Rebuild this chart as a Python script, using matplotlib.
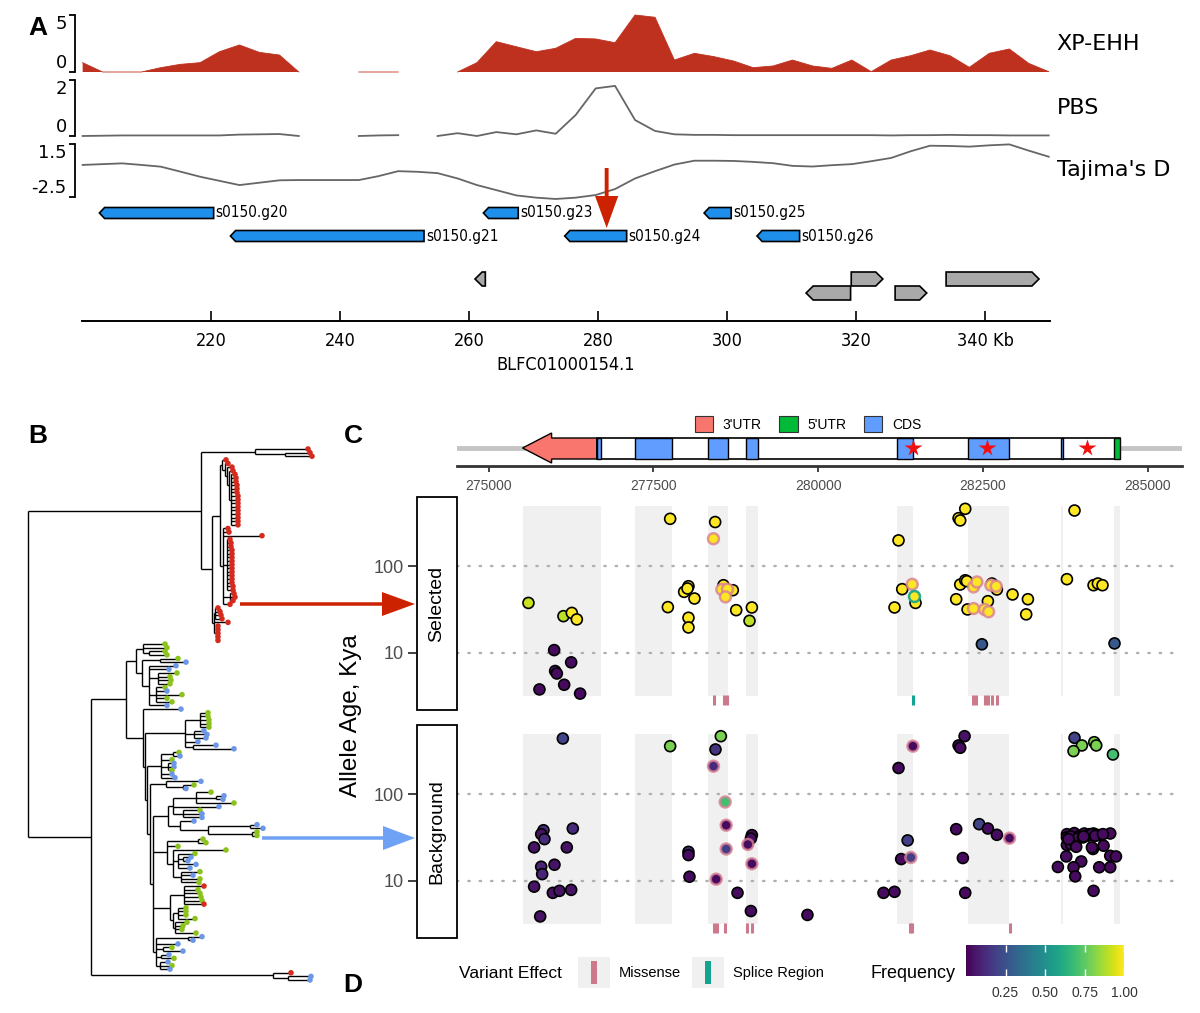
import numpy as np
import matplotlib
matplotlib.use("Agg")
import matplotlib.pyplot as plt
from matplotlib.patches import Rectangle, Polygon, FancyArrow, Patch
from matplotlib.transforms import Affine2D
from matplotlib.collections import LineCollection
import matplotlib.colors as mcolors
import matplotlib.cm as cm

nan = np.nan
W, H = 1200, 1013

# ======================= DATA =======================
# ---- Panel A : selection scans ----
window_kb = [200.1, 203.2, 206.2, 209.2, 212.2, 215.2, 218.3, 221.3, 224.4, 227.5,
             230.6, 233.6, 236.7, 239.8, 242.9, 245.9, 249.0, 252.1, 255.1, 258.2,
             261.2, 264.2, 267.3, 270.4, 273.4, 276.5, 279.6, 282.6, 285.7, 288.8,
             291.8, 294.9, 297.9, 301.0, 304.0, 307.1, 310.1, 313.2, 316.2, 319.3,
             322.3, 325.4, 328.4, 331.4, 334.5, 337.5, 340.6, 343.7, 346.7, 349.8]
xpehh = [0.82, 0.0, 0.0, 0.0, 0.38, 0.67, 0.82, 1.78, 2.37, 1.72,
         1.49, 0.0, nan, nan, 0.0, 0.0, 0.0, nan, nan, 0.0,
         0.82, 2.66, 2.22, 1.78, 2.08, 2.95, 2.90, 2.57, 5.00, 4.80,
         1.05, 1.64, 1.35, 0.96, 0.38, 0.53, 1.05, 0.53, 0.32, 1.05,
         0.03, 1.05, 1.43, 1.93, 1.43, 0.41, 1.64, 2.02, 0.76, 0.03]
pbs = [0.0, 0.01, 0.02, 0.02, 0.02, 0.02, 0.02, 0.02, 0.05, 0.06,
       0.07, 0.0, nan, nan, 0.0, 0.02, 0.03, nan, 0.0, 0.10,
       0.0, 0.14, 0.06, 0.20, 0.08, 0.75, 1.70, 1.79, 0.57, 0.18,
       0.06, 0.04, 0.04, 0.03, 0.03, 0.03, 0.03, 0.03, 0.03, 0.03,
       0.03, 0.02, 0.03, 0.03, 0.04, 0.03, 0.03, 0.02, 0.02, 0.02]
tajima_d = [-0.08, -0.02, 0.04, -0.08, -0.21, -0.58, -0.97, -1.28, -1.60, -1.42,
            -1.24, -1.22, -1.22, -1.22, -1.22, -0.93, -0.55, -0.60, -0.70, -1.10,
            -1.60, -1.98, -2.38, -2.55, -2.65, -2.55, -2.35, -1.90, -1.10, -0.55,
            -0.05, 0.24, 0.24, 0.22, 0.15, 0.05, -0.15, -0.20, -0.10, -0.02,
            0.20, 0.45, 0.95, 1.37, 1.35, 1.30, 1.40, 1.47, 1.00, 0.54]
track_names = ["XP-EHH", "PBS", "Tajima's D"]
track_ticks = [[0, 5], [0, 2], [-2.5, 1.5]]
track_ticklabels = [["0", "5"], ["0", "2"], ["-2.5", "1.5"]]

gene_names = ["s0150.g20", "s0150.g21", "s0150.g23", "s0150.g24", "s0150.g25", "s0150.g26"]
gene_start_kb = [202.7, 223.0, 262.2, 274.8, 296.4, 304.6]
gene_end_kb = [220.4, 253.0, 267.6, 284.4, 300.6, 311.2]
gene_row = [0, 1, 0, 1, 0, 1]
other_start_kb = [260.9, 319.2, 333.9, 312.2, 326.0]
other_end_kb = [262.5, 324.1, 348.3, 319.1, 330.9]
other_strand = ["-", "+", "+", "-", "+"]
other_row = [2, 2, 2, 3, 3]
focus_kb = 281.3
a_ticks = [220, 240, 260, 280, 300, 320, 340]
contig_name = "BLFC01000154.1"

# ---- Panel C : gene model ----
exon_start = [275515, 276640, 277215, 278335, 278910, 281200, 282280, 283680, 284485]
exon_end = [276640, 276700, 277775, 278625, 279090, 281440, 282900, 283715, 284580]
exon_type = ["3'UTR", "CDS", "CDS", "CDS", "CDS", "CDS", "CDS", "CDS", "5'UTR"]
star_pos = [281435, 282560, 284082]
model_ticks = [275000, 277500, 280000, 282500, 285000]

# ---- Panel C : allele ages (Selected) ----
sel_pos = [275604, 276135, 276262, 276338, 275994, 276252, 276009, 276035, 276146, 275771,
           276388, 277754, 278437, 278411, 278032, 277966, 278017, 278123, 277719, 278032,
           278032, 278563, 278538, 278624, 278705, 278594, 278756, 278994, 278958, 281219,
           281158, 281275, 281427, 281457, 281477, 282231, 282130, 282155, 282155, 282231,
           282256, 282357, 282408, 282636, 282620, 282711, 282701, 282094, 282266, 282357,
           282575, 282524, 282585, 282484, 282949, 283182, 283156, 283889, 283774, 284178,
           284244, 284314, 284496]
sel_age = [37.8, 26.6, 29.0, 24.4, 10.8, 7.8, 6.2, 5.8, 4.3, 3.8,
           3.4, 353, 324, 208, 58.9, 50.7, 55.5, 42.5, 33.8, 25.5,
           19.7, 60.5, 54.0, 54.4, 53.0, 44.4, 31.2, 33.5, 23.5, 199,
           33.5, 54.5, 62.0, 45.2, 37.8, 460, 359, 338, 61.6, 69.0,
           67.3, 57.8, 66.0, 63.3, 60.5, 54.0, 58.9, 41.7, 31.8, 32.6,
           39.6, 31.8, 29.9, 12.6, 47.3, 41.7, 27.9, 440, 71.0, 60.5,
           63.3, 60.5, 12.9]
sel_freq = [0.92, 0.90, 1.0, 1.0, 0.03, 0.03, 0.03, 0.03, 0.03, 0.03,
            0.03, 1.0, 1.0, 1.0, 1.0, 1.0, 1.0, 1.0, 1.0, 1.0,
            1.0, 1.0, 1.0, 1.0, 1.0, 1.0, 1.0, 1.0, 0.90, 1.0,
            1.0, 1.0, 1.0, 1.0, 1.0, 1.0, 1.0, 1.0, 1.0, 1.0,
            1.0, 1.0, 1.0, 1.0, 1.0, 1.0, 1.0, 1.0, 1.0, 1.0,
            1.0, 1.0, 1.0, 0.27, 1.0, 1.0, 1.0, 1.0, 1.0, 1.0,
            1.0, 1.0, 0.27]
sel_effect = ["n", "n", "n", "n", "n", "n", "n", "n", "n", "n",
              "n", "n", "n", "m", "n", "n", "n", "n", "n", "n",
              "n", "n", "m", "m", "n", "m", "n", "n", "n", "n",
              "n", "n", "m", "s", "n", "n", "n", "n", "n", "n",
              "n", "m", "m", "n", "m", "n", "m", "n", "n", "m",
              "n", "m", "m", "n", "n", "n", "n", "n", "n", "n",
              "n", "n", "n"]

# ---- Panel C : allele ages (Background) ----
bg_pos = [276126, 277754, 278523, 278442, 278411, 278589, 278604, 278604, 278452, 278994,
          278979, 278933, 278994, 278776, 278979, 278032, 278032, 278047, 279837, 275832,
          275797, 275847, 276277, 275690, 276186, 275797, 275812, 275999, 275690, 275974,
          276075, 276252, 275782, 281437, 281219, 282221, 282130, 282155, 281357, 281259,
          281406, 280991, 281158, 282094, 282195, 282231, 282443, 282575, 282711, 282903,
          283889, 284001, 283874, 284188, 284219, 284472,
          283774, 283885, 283966, 284037, 284117, 284178, 284229, 284269, 284431, 283774,
          283835, 283935, 284017, 284087, 284153, 284169, 283774, 283835, 283915, 284153,
          284330, 283764, 283991, 284431, 284518, 283637, 283874, 284264, 284431, 283900,
          284178, 284204, 284320, 283798, 284027]
bg_age = [440, 359, 468, 329, 211, 81.5, 44.0, 23.4, 10.5, 33.8,
          30.9, 26.4, 15.8, 7.3, 4.5, 21.7, 19.9, 11.2, 4.06, 38.5,
          34.7, 30.4, 40.3, 24.4, 24.4, 14.6, 12.0, 15.4, 8.6, 7.3,
          7.7, 7.9, 3.9, 359, 201, 468, 366, 344, 29.4, 17.9,
          18.7, 7.3, 7.5, 39.6, 18.4, 7.3, 45.2, 40.3, 34.1, 31.2,
          448, 366, 315, 399, 366, 288,
          34.7, 35.7, 33.2, 35.3, 34.7, 35.3, 34.0, 33.8, 35.3, 31.8,
          32.6, 30.9, 31.8, 33.2, 34.7, 23.4, 26.0, 26.6, 24.8, 24.4,
          25.5, 19.2, 16.8, 19.5, 19.2, 14.5, 14.4, 14.4, 14.4, 11.3,
          7.7, 33.2, 34.7, 30.4, 32.6]
bg_freq = [0.20, 0.80, 0.80, 0.15, 0.12, 0.70, 0.03, 0.18, 0.03, 0.03,
           0.03, 0.03, 0.03, 0.03, 0.03, 0.12, 0.03, 0.03, 0.03, 0.12,
           0.05, 0.12, 0.12, 0.05, 0.05, 0.10, 0.10, 0.05, 0.05, 0.05,
           0.05, 0.05, 0.05, 0.03, 0.03, 0.05, 0.03, 0.03, 0.18, 0.03,
           0.18, 0.03, 0.03, 0.03, 0.03, 0.03, 0.20, 0.03, 0.03, 0.03,
           0.20, 0.80, 0.80, 0.80, 0.80, 0.70,
           0.03, 0.03, 0.03, 0.03, 0.03, 0.03, 0.03, 0.03, 0.03, 0.03,
           0.03, 0.03, 0.03, 0.03, 0.03, 0.03, 0.03, 0.03, 0.03, 0.03,
           0.03, 0.03, 0.03, 0.03, 0.03, 0.03, 0.03, 0.03, 0.03, 0.03,
           0.03, 0.03, 0.03, 0.03, 0.03]
bg_effect = ["n", "n", "n", "n", "m", "m", "m", "m", "m", "n",
             "n", "m", "m", "n", "n", "n", "n", "n", "n", "n",
             "n", "n", "n", "n", "n", "n", "n", "n", "n", "n",
             "n", "n", "n", "m", "n", "n", "n", "n", "n", "n",
             "m", "n", "n", "n", "n", "n", "n", "n", "n", "m",
             "n", "n", "n", "n", "n", "n"] + ["n"] * 35

sel_missense_pos = [278413, 278565, 278610, 282347, 282400, 282535, 282570, 282640, 282712]
sel_splice_pos = [281446]
bg_missense_pos = [278413, 278464, 278589, 278927, 278993, 281400, 281430, 282904]
bg_splice_pos = []
age_ticks = [10, 100]
freq_ticks = [0.25, 0.50, 0.75, 1.00]

# ---- Panel B : haplotype tree (Newick, node values = distance from root) ----
clade_A = "(r:2.80,(r:2.82,r:2.84):2.57):2.27"
clade_C1 = ("(r:1.98,(r:2.00,(r:2.04,(r:2.05,(r:2.07,r:2.08,r:2.08,r:2.09,r:2.09,r:2.09,r:2.10,"
            "r:2.10,r:2.10,r:2.10,r:2.10,r:2.10,r:2.10,r:2.10,r:2.10):2.03):2.01):1.99):1.97):1.94")
clade_C2 = ("(r:2.00,r:2.01,r:2.34,(r:2.02,r:2.03,r:2.03,r:2.04,r:2.04,r:2.04,r:2.04,r:2.04,r:2.04,"
            "r:2.04,r:2.04,r:2.04,r:2.04,r:2.05,r:2.05):1.99,(r:2.06,r:2.07,r:2.05):2.02,r:2.02):1.95")
clade_B2 = "((r:1.90,r:1.92,r:1.93,r:1.94):1.87,r:2.00,(r:1.90,r:1.90,r:1.90,r:1.90,r:1.90):1.88):1.86"
clade_L1a = ("((g:1.37,g:1.39,(g:1.37,g:1.39):1.21):1.15,((g:1.50,b:1.58):1.32,(b:1.48,b:1.41,"
             "(g:1.49,g:1.42,g:1.43,g:1.42):1.30,(g:1.37,b:1.39,g:1.54,g:1.39,g:1.44):1.28,b:1.39):1.21):1.14):1.08")
clade_P = "((g:1.80,g:1.80,g:1.81,g:1.81,g:1.81):1.72,(b:1.76,b:1.79,b:1.78):1.66,b:1.70,(b:1.88,b:2.06):1.65):1.57"
clade_Q = "((g:1.51,b:1.52):1.45,g:1.44,(b:1.46,b:1.46,g:1.44):1.40,b:1.44,b:1.47):1.33"
clade_R = "(b:1.73,(g:1.66,b:1.58):1.55):1.38"
clade_S = "((g:1.83,(b:1.96,b:1.95):1.88,g:2.06):1.68,b:1.91,(g:1.72,b:1.74,b:1.74):1.55):1.45"
clade_T = "(b:1.66,((b:2.29,b:2.35):2.22,(g:2.29,g:2.29):2.24):1.80):1.52"
clade_U = ("((g:1.75,g:1.78):1.70,g:1.50,(g:1.98,(g:1.67,(b:1.63,b:1.60):1.55,b:1.68,b:1.62):1.50,"
           "(g:1.72,b:1.65,g:1.72,g:1.71):1.53):1.45):1.39")
clade_W = ("((r:1.76,g:1.70,g:1.72,g:1.73,g:1.74,r:1.76):1.56,((g:1.58,g:1.58,g:1.58,g:1.67):1.50,"
           "(g:1.59,g:1.55,g:1.54,g:1.68):1.47):1.45):1.42")
clade_X = "((b:1.74,b:1.65):1.60,b:1.50,(g:1.44,b:1.55):1.35,(b:1.41,g:1.46):1.33,(b:1.40,g:1.44,b:1.42):1.32):1.28"
clade_Lb = "(r:2.63,(b:2.83,b:2.82):2.60):2.45"

tree_newick = (
    "(((" + clade_A + ",((" + clade_C1 + "," + clade_C2 + "):1.92," + clade_B2 + "):1.84):1.73,"
    "((" + clade_L1a + ",(b:1.53,(" + clade_P + ",(" + clade_Q + ",(" + clade_R + ",(("
    + clade_S + "," + clade_T + "):1.40," + clade_U + "," + clade_W + "," + clade_X
    + "):1.25):1.22):1.19):1.17):1.15):0.98," + clade_Lb + "):0.63):0.00)"
)
tip_colors = {"r": "#D42B1E", "g": "#8CC21C", "b": "#6C97E6"}

# ======================= FIGURE =======================
plt.rcParams["font.family"] = ["Liberation Sans", "DejaVu Sans"]
fig = plt.figure(figsize=(W / 100, H / 100), dpi=100)
PX = Affine2D().scale(1.0 / W, -1.0 / H).translate(0, 1) + fig.transFigure


def ax_px(x0, y0, x1, y1, **kw):
    return fig.add_axes([x0 / W, 1 - y1 / H, (x1 - x0) / W, (y1 - y0) / H], **kw)


DJ = "DejaVu Sans"
COND = dict(family=DJ, stretch="condensed")

# ---------------- Panel A ----------------
xlim_a = (200, 350)
track_boxes = [(15, 72), (80, 136), (144, 197)]
track_data = [xpehh, pbs, tajima_d]
for i, (yb, vals) in enumerate(zip(track_boxes, track_data)):
    ax = ax_px(82, yb[0], 1050, yb[1])
    ax.set_xlim(*xlim_a)
    ax.set_ylim(track_ticks[i][0], track_ticks[i][1])
    ax.patch.set_visible(False)
    for sp in ["top", "right", "bottom"]:
        ax.spines[sp].set_visible(False)
    ax.spines["left"].set_position(("outward", 5))
    ax.spines["left"].set_linewidth(1.3)
    ax.set_xticks([])
    ax.set_yticks(track_ticks[i])
    ax.set_yticklabels(track_ticklabels[i], fontsize=13, family=DJ)
    ax.tick_params(axis="y", direction="out", length=4, width=1.3, pad=2)
    labs = ax.get_yticklabels()
    labs[0].set_verticalalignment("bottom")
    labs[1].set_verticalalignment("top")
    if i == 0:
        ax.fill_between(window_kb, 0, vals, color="#BF311F", lw=0, clip_on=False)
        ax.plot(window_kb, vals, color="#BF311F", lw=0.6, clip_on=False)
    else:
        ax.plot(window_kb, vals, color="#666666", lw=1.3, clip_on=False)
    ax.text(1.007, 0.5, track_names[i], transform=ax.transAxes, ha="left", va="center",
            fontsize=16, family=DJ)

# genes + axis
axg = ax_px(82, 160, 1050, 321)
axg.patch.set_visible(False)
axg.set_xlim(*xlim_a)
axg.set_ylim(321, 160)
row_y = [213, 236, 279, 293]
for sp in ["top", "right", "left"]:
    axg.spines[sp].set_visible(False)
axg.spines["bottom"].set_linewidth(1.4)
axg.set_yticks([])
axg.set_xticks(a_ticks)
axg.set_xticklabels([str(t) for t in a_ticks[:-1]] + [f"{a_ticks[-1]} Kb"], fontsize=13, **COND)
axg.tick_params(axis="x", direction="in", length=7, width=1.2, pad=8)
axg.set_xlabel(contig_name, fontsize=13, labelpad=4, **COND)


def gene_poly(s, e, strand, yc, h, head):
    if strand == "-":
        pts = [(s, yc), (s + head, yc - h / 2), (e, yc - h / 2), (e, yc + h / 2), (s + head, yc + h / 2)]
    else:
        pts = [(e, yc), (e - head, yc - h / 2), (s, yc - h / 2), (s, yc + h / 2), (e - head, yc + h / 2)]
    return pts


for name, s, e, r in zip(gene_names, gene_start_kb, gene_end_kb, gene_row):
    axg.add_patch(Polygon(gene_poly(s, e, "-", row_y[r], 11, 0.8), closed=True,
                          fc="#1E8FEA", ec="black", lw=1.2))
    axg.text(e + 0.3, row_y[r], name, ha="left", va="center", fontsize=11, **COND)
for s, e, st, r in zip(other_start_kb, other_end_kb, other_strand, other_row):
    axg.add_patch(Polygon(gene_poly(s, e, st, row_y[r], 14, 1.1), closed=True,
                          fc="#A9A9A9", ec="black", lw=1.2))
axg.add_patch(FancyArrow(focus_kb, 168, 0, 60, width=0.6, head_width=3.6, head_length=32,
                         length_includes_head=True, color="#CC2200", lw=0, clip_on=False))

# ---------------- Panel B : tree ----------------
def parse_newick(s):
    pos = [0]

    def node():
        children = []
        name = None
        if s[pos[0]] == "(":
            pos[0] += 1
            children.append(node())
            while s[pos[0]] == ",":
                pos[0] += 1
                children.append(node())
            pos[0] += 1
        else:
            st = pos[0]
            while s[pos[0]] not in ":,)":
                pos[0] += 1
            name = s[st:pos[0]]
        depth = 0.0
        if pos[0] < len(s) and s[pos[0]] == ":":
            pos[0] += 1
            st = pos[0]
            while pos[0] < len(s) and s[pos[0]] not in ",)":
                pos[0] += 1
            depth = float(s[st:pos[0]])
        return {"name": name, "children": children, "depth": depth}

    return node()


tree = parse_newick(tree_newick)
tips = []


def layout(nd):
    if not nd["children"]:
        nd["y"] = len(tips)
        tips.append(nd)
        return nd["y"]
    ys = [layout(c) for c in nd["children"]]
    nd["y"] = (ys[0] + ys[-1]) / 2.0
    return nd["y"]


layout(tree)
segs = []


def collect(nd):
    if nd["children"]:
        ys = [c["y"] for c in nd["children"]]
        segs.append([(nd["depth"], min(ys)), (nd["depth"], max(ys))])
        for c in nd["children"]:
            segs.append([(nd["depth"], c["y"]), (c["depth"], c["y"])])
            collect(c)


collect(tree)
axt = ax_px(28, 449, 312, 980)
axt.set_xlim(0, 2.84)
axt.set_ylim(len(tips) - 1, 0)
axt.axis("off")
axt.add_collection(LineCollection(segs, colors="black", linewidths=1.0, clip_on=False))
axt.scatter([t["depth"] for t in tips], [t["y"] for t in tips],
            c=[tip_colors[t["name"]] for t in tips], s=16, lw=0, zorder=3, clip_on=False)

# ---------------- Panel C : gene model ----------------
xlim_c = (274520, 285520)
axm = ax_px(457, 405, 1182, 466)
axm.patch.set_visible(False)
axm.set_xlim(*xlim_c)
axm.set_ylim(466, 405)
for sp in ["top", "right", "left"]:
    axm.spines[sp].set_visible(False)
axm.spines["bottom"].set_linewidth(2.0)
axm.spines["bottom"].set_color("#333333")
axm.set_yticks([])
axm.set_xticks(model_ticks)
axm.set_xticklabels([str(t) for t in model_ticks], fontsize=10, color="#4D4D4D")
axm.tick_params(axis="x", length=4, width=1.3, color="#333333", pad=5)
axm.axhline(448, color="#C4C4C4", lw=3.5, zorder=1)
type_color = {"3'UTR": "#F8766D", "5'UTR": "#00BA38", "CDS": "#619CFF"}
body_start = min(e for e, t in zip(exon_end, exon_type) if t == "3'UTR")
body_end = max(exon_end)
axm.add_patch(Rectangle((body_start, 438), body_end - body_start, 21, fc="white", ec="black",
                        lw=1.2, zorder=2))
head_bp = 440
for s, e, t in zip(exon_start, exon_end, exon_type):
    if t == "3'UTR":
        pts = [(s, 448), (s + head_bp, 433), (s + head_bp, 438), (e, 438), (e, 459),
               (s + head_bp, 459), (s + head_bp, 463)]
        axm.add_patch(Polygon(pts, closed=True, fc=type_color[t], ec="black", lw=1.0, zorder=3))
    else:
        axm.add_patch(Rectangle((s, 438), e - s, 21, fc=type_color[t], ec="black", lw=1.0, zorder=3))
axm.plot(star_pos, [448] * len(star_pos), ls="none", marker="*", ms=13, color="#F01010",
         mec="none", zorder=4)
handles = [Patch(fc=type_color[k], ec="#333333", lw=0.8) for k in ["3'UTR", "5'UTR", "CDS"]]
axm.legend(handles, ["3'UTR", "5'UTR", "CDS"], loc="center", bbox_to_anchor=(808, 424),
           bbox_transform=PX, ncol=3, frameon=False, fontsize=10, handlelength=1.3,
           handleheight=1.45, handletextpad=0.7, columnspacing=1.3, borderaxespad=0)

# ---------------- Panel C : allele ages ----------------
bands = []
for s, e in zip(exon_start, exon_end):
    if bands and s <= bands[-1][1]:
        bands[-1][1] = max(e, bands[-1][1])
    else:
        bands.append([s, e])
all_ages = sel_age + bg_age
band_lo, band_hi = min(all_ages) * 0.95, max(all_ages) * 1.05
norm = mcolors.Normalize(0, 1)
cmap = plt.get_cmap("viridis")
edge_col = {"n": "black", "m": (0.85, 0.50, 0.58, 0.8), "s": (0.08, 0.65, 0.52, 0.9)}
ylim_c = (2.2, 630)

facets = [("Selected", 497, 710, sel_pos, sel_age, sel_freq, sel_effect, sel_missense_pos, sel_splice_pos),
          ("Background", 725, 938, bg_pos, bg_age, bg_freq, bg_effect, bg_missense_pos, bg_splice_pos)]
for label, y0, y1, pos, age, freq, eff, mpos, spos in facets:
    ax = ax_px(457, y0, 1182, y1)
    ax.set_xlim(*xlim_c)
    ax.set_yscale("log")
    ax.set_ylim(*ylim_c)
    ax.axis("off")
    for s, e in bands:
        ax.fill_between([s, e], band_lo, band_hi, color="#F0F0F0", lw=0, zorder=0)
    for v in age_ticks:
        ax.axhline(v, color="#B0B0B0", lw=1.7, ls=(0, (0.6, 4.2)), dash_capstyle="round", zorder=1)
    if mpos:
        ax.vlines(mpos, 2.5, 3.3, color="#CC7A8B", lw=2.2, zorder=2)
    if spos:
        ax.vlines(spos, 2.5, 3.3, color="#14A38E", lw=2.2, zorder=2)
    pos_a, age_a, freq_a = np.array(pos), np.array(age), np.array(freq)
    for code, lw in [("n", 1.2), ("m", 1.8), ("s", 1.8)]:
        idx = [k for k, c in enumerate(eff) if c == code]
        if idx:
            ax.scatter(pos_a[idx], age_a[idx], c=freq_a[idx], cmap=cmap, norm=norm, s=62,
                       edgecolors=[edge_col[code]] * len(idx), linewidths=lw,
                       zorder=3 + (code != "n"), clip_on=False)
    # y axis (outside strip)
    ay = ax_px(416, y0, 417, y1)
    ay.patch.set_visible(False)
    ay.set_yscale("log")
    ay.set_ylim(*ylim_c)
    for sp in ay.spines.values():
        sp.set_visible(False)
    ay.set_xticks([])
    ay.set_yticks(age_ticks)
    ay.set_yticklabels([str(v) for v in age_ticks], fontsize=13, color="#4D4D4D")
    ay.yaxis.set_minor_locator(matplotlib.ticker.NullLocator())
    ay.tick_params(axis="y", length=6, width=1.3, color="#333333", pad=3)
    # strip
    fig.add_artist(Rectangle((417, y0), 40, y1 - y0, transform=PX, fc="white", ec="black", lw=1.3))
    fig.text(437, (y0 + y1) / 2, label, transform=PX, rotation=90, ha="center", va="center", fontsize=14)

fig.text(351, 716, "Allele Age, Kya", transform=PX, rotation=90, ha="center", va="center", fontsize=17.5)

# legend: variant effect
fig.text(459, 973, "Variant Effect", transform=PX, ha="left", va="center", fontsize=12.5)
for x0, col, lab in [(578, "#CC7A8B", "Missense"), (692, "#14A38E", "Splice Region")]:
    fig.add_artist(Rectangle((x0, 957), 32, 31, transform=PX, fc="#F0F0F0", ec="none"))
    fig.add_artist(Rectangle((x0 + 13, 961), 6, 23, transform=PX, fc=col, ec="none"))
    fig.text(x0 + 41, 973, lab, transform=PX, ha="left", va="center", fontsize=10.5)
fig.text(955, 973, "Frequency", transform=PX, ha="right", va="center", fontsize=13)
cax = ax_px(966, 945, 1124, 976)
cb = fig.colorbar(cm.ScalarMappable(norm=norm, cmap=cmap), cax=cax, orientation="horizontal")
cb.set_ticks(freq_ticks)
cb.set_ticklabels([f"{v:.2f}" for v in freq_ticks])
cb.outline.set_visible(False)
cax.tick_params(direction="in", length=5, width=1, color="white", labelsize=10, labelcolor="#333333",
                top=True, bottom=True, pad=7)

# arrows from tree to panels
fig.add_artist(FancyArrow(240, 604, 175, 0, width=3.5, head_width=24, head_length=33,
                          length_includes_head=True, transform=PX, color="#CC2200", lw=0))
fig.add_artist(FancyArrow(262, 838, 153, 0, width=3.5, head_width=24, head_length=32,
                          length_includes_head=True, transform=PX, color="#6FA1F5", lw=0))

# panel letters
for lab, x, y in [("A", 38, 28), ("B", 38, 436), ("C", 353, 436), ("D", 353, 985)]:
    fig.text(x, y, lab, transform=PX, ha="center", va="center", fontsize=19, fontweight="bold")

fig.savefig("out.png", dpi=100)
